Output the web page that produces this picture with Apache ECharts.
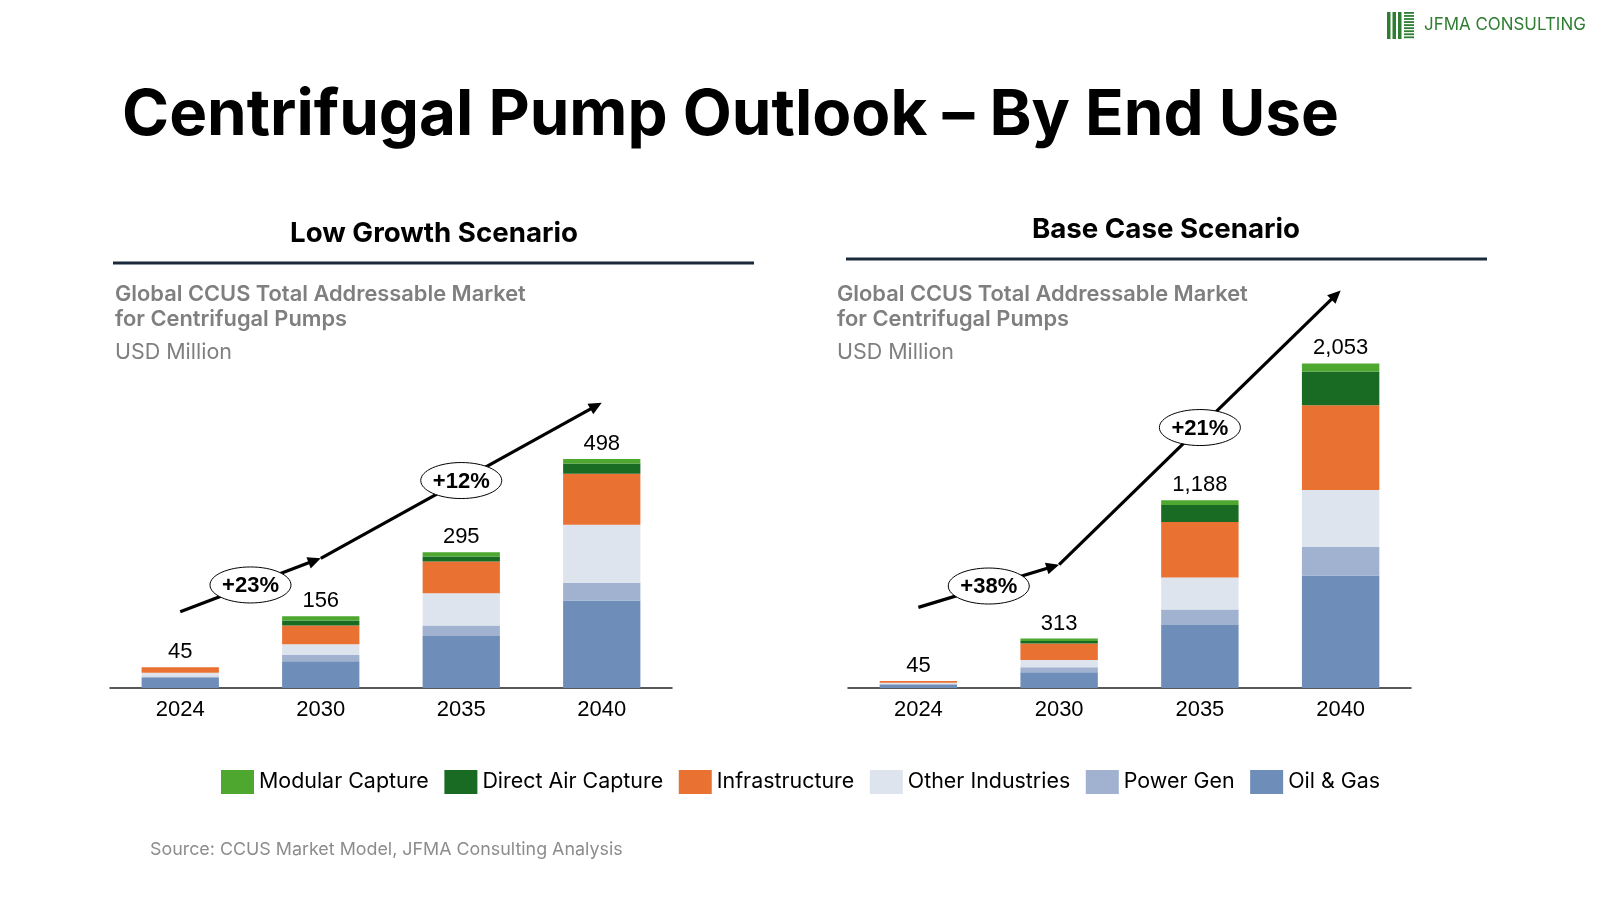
<!DOCTYPE html>
<html><head><meta charset="utf-8">
<script src="https://cdn.jsdelivr.net/npm/echarts@6/dist/echarts.min.js"></script>
<style>html,body{margin:0;padding:0;background:#fff}#c{width:1600px;height:900px}</style>
</head><body><div id="c"></div>
<script>
// ---------- DATA ----------
const years = ['2024', '2030', '2035', '2040'];
const stackOrder = ['Oil & Gas', 'Power Gen', 'Other Industries', 'Infrastructure', 'Direct Air Capture', 'Modular Capture'];
const legendOrder = ['Modular Capture', 'Direct Air Capture', 'Infrastructure', 'Other Industries', 'Power Gen', 'Oil & Gas'];

// Low Growth Scenario (USD Million)
const lowOilGas   = [22, 58, 113, 190];
const lowPowerGen = [3, 14, 23, 39];
const lowOtherInd = [8, 23, 70, 126];
const lowInfra    = [12, 41, 69, 111];
const lowDAC      = [0, 11, 11, 22];
const lowModular  = [0, 9, 9, 10];
const lowTotals   = [45, 156, 295, 498];
const lowGrowth   = ['+23%', '+12%'];
const lowTrend    = [[0, 166], [1, 282], [3, 620]];

// Base Case Scenario (USD Million)
const baseOilGas   = [22, 100, 399, 711];
const basePowerGen = [3, 32, 97, 181];
const baseOtherInd = [8, 45, 203, 361];
const baseInfra    = [12, 104, 351, 536];
const baseDAC      = [0, 17, 108, 213];
const baseModular  = [0, 15, 30, 51];
const baseTotals   = [45, 313, 1188, 2053];
const baseGrowth   = ['+38%', '+21%'];
const baseTrend    = [[0, 510], [1, 780], [3, 2515]];

// ---------- STYLE ----------
const colors = {
  'Modular Capture': '#4EA72E',
  'Direct Air Capture': '#196B24',
  'Infrastructure': '#E97132',
  'Other Industries': '#DEE4EE',
  'Power Gen': '#A0B2CF',
  'Oil & Gas': '#6E8DB9'
};
const numFont = "'Liberation Sans', Arial, sans-serif";
const txtFont = "Inter, 'Noto Sans', sans-serif";

const mctx = document.createElement('canvas').getContext('2d');
function measure(text, weight, size, family) {
  mctx.font = weight + ' ' + size + 'px ' + family;
  return mctx.measureText(text).width;
}
function fit(text, weight, family, target) {
  return 100 * target / measure(text, weight, 100, family);
}

const titleSize = fit('Centrifugal Pump Outlook – By End Use', 'bold', txtFont, 1217);
const headSize = fit('Low Growth Scenario', 'bold', txtFont, 288);
const subSize = fit('Global CCUS Total Addressable Market', '600', txtFont, 411);
const unitSize = fit('USD Million', 'normal', txtFont, 117);
const srcSize = fit('Source: CCUS Market Model, JFMA Consulting Analysis', 'normal', txtFont, 473);
const legSize = fit('Modular Capture', 'normal', txtFont, 170);
const logoSize = fit('JFMA CONSULTING', 'normal', txtFont, 162);

// legend gap so the legend spans the reference width
const legItemW = 33;
let legSum = 0;
legendOrder.forEach(n => { legSum += legItemW + 5 + measure(n, 'normal', legSize, txtFont); });
const legGap = Math.max(4, (1159 - legSum) / (legendOrder.length - 1));

const lowData = [lowOilGas, lowPowerGen, lowOtherInd, lowInfra, lowDAC, lowModular];
const baseData = [baseOilGas, basePowerGen, baseOtherInd, baseInfra, baseDAC, baseModular];

function makeSeries(dataSets, totals, idx) {
  return stackOrder.map((name, i) => ({
    name: name,
    type: 'bar',
    stack: 's' + idx,
    xAxisIndex: idx,
    yAxisIndex: idx,
    barWidth: '55%',
    itemStyle: { color: colors[name] },
    emphasis: { disabled: true },
    data: dataSets[i],
    label: i === stackOrder.length - 1 ? {
      show: true, position: 'top', distance: 4,
      fontFamily: numFont, fontSize: 22, color: '#000',
      formatter: p => totals[p.dataIndex].toLocaleString('en-US')
    } : { show: false }
  }));
}

const chart = echarts.init(document.getElementById('c'), null, { renderer: 'canvas' });

const axisCommon = {
  type: 'category', data: years,
  axisLine: { lineStyle: { color: '#222', width: 1.5 } },
  axisTick: { show: false },
  axisLabel: { fontFamily: numFont, fontSize: 22, color: '#000', margin: 11 }
};

const green = '#2E7D32';
const staticGraphics = [
  { type: 'text', x: 122, y: 116, style: { text: 'Centrifugal Pump Outlook – By End Use', verticalAlign: 'middle', fontFamily: txtFont, fontWeight: 'bold', fontSize: titleSize, fill: '#000' } },
  // logo
  { type: 'rect', shape: { x: 1387, y: 12, width: 3.5, height: 27 }, style: { fill: green } },
  { type: 'rect', shape: { x: 1392.5, y: 12, width: 3.5, height: 27 }, style: { fill: green } },
  { type: 'rect', shape: { x: 1398, y: 12, width: 3.5, height: 27 }, style: { fill: green } },
  ...Array.from({ length: 9 }, (_, k) => ({ type: 'rect', shape: { x: 1404, y: 12 + k * 3.05, width: 10, height: 1.8 }, style: { fill: green } })),
  { type: 'text', x: 1424, y: 25, style: { text: 'JFMA CONSULTING', verticalAlign: 'middle', fontFamily: txtFont, fontSize: logoSize, fill: green } },
  // section headers
  { type: 'text', x: 434, y: 234, style: { text: 'Low Growth Scenario', align: 'center', verticalAlign: 'middle', fontFamily: txtFont, fontWeight: 'bold', fontSize: headSize, fill: '#000' } },
  { type: 'text', x: 1166, y: 230, style: { text: 'Base Case Scenario', align: 'center', verticalAlign: 'middle', fontFamily: txtFont, fontWeight: 'bold', fontSize: headSize, fill: '#000' } },
  { type: 'line', shape: { x1: 113, y1: 263, x2: 754, y2: 263 }, style: { stroke: '#1B2A3A', lineWidth: 3 } },
  { type: 'line', shape: { x1: 846, y1: 259, x2: 1487, y2: 259 }, style: { stroke: '#1B2A3A', lineWidth: 3 } },
];
[115, 837].forEach(x => {
  staticGraphics.push(
    { type: 'text', x: x, y: 294, style: { text: 'Global CCUS Total Addressable Market', verticalAlign: 'middle', fontFamily: txtFont, fontWeight: 600, fontSize: subSize, fill: '#7F7F7F' } },
    { type: 'text', x: x, y: 319, style: { text: 'for Centrifugal Pumps', verticalAlign: 'middle', fontFamily: txtFont, fontWeight: 600, fontSize: subSize, fill: '#7F7F7F' } },
    { type: 'text', x: x, y: 353, style: { text: 'USD Million', verticalAlign: 'middle', fontFamily: txtFont, fontSize: unitSize, fill: '#7F7F7F' } }
  );
});
staticGraphics.push(
  { type: 'text', x: 150, y: 850, style: { text: 'Source: CCUS Market Model, JFMA Consulting Analysis', verticalAlign: 'middle', fontFamily: txtFont, fontSize: srcSize, fill: '#8C8C8C' } }
);

const option = {
  animation: false,
  backgroundColor: '#fff',
  grid: [
    { left: 110, width: 562, top: 366, height: 322 },
    { left: 848, width: 563, top: 356, height: 332 }
  ],
  xAxis: [Object.assign({ gridIndex: 0 }, axisCommon), Object.assign({ gridIndex: 1 }, axisCommon)],
  yAxis: [
    { gridIndex: 0, type: 'value', min: 0, max: 700, show: false },
    { gridIndex: 1, type: 'value', min: 0, max: 2100, show: false }
  ],
  legend: {
    data: legendOrder, left: 216, top: 765,
    itemWidth: legItemW, itemHeight: 24, itemGap: legGap,
    icon: 'rect',
    textStyle: { fontFamily: txtFont, fontSize: legSize, color: '#000' },
    selectedMode: false
  },
  series: makeSeries(lowData, lowTotals, 0).concat(makeSeries(baseData, baseTotals, 1)),
  graphic: staticGraphics
};
chart.setOption(option);

function trendGraphics(points, labels, gi) {
  const px = points.map(p => chart.convertToPixel({ xAxisIndex: gi, yAxisIndex: gi }, p));
  const out = [];
  function arrowHead(a, b) {
    const dx = b[0] - a[0], dy = b[1] - a[1];
    const len = Math.hypot(dx, dy), ux = dx / len, uy = dy / len;
    const L = 13, W = 6;
    const bx = b[0] - ux * L, by = b[1] - uy * L;
    return { type: 'polygon', z: 10, shape: { points: [[b[0], b[1]], [bx - uy * W, by + ux * W], [bx + uy * W, by - ux * W]] }, style: { fill: '#000' } };
  }
  for (let i = 0; i < px.length - 1; i++) {
    const a = px[i], b = px[i + 1];
    const dx = b[0] - a[0], dy = b[1] - a[1], len = Math.hypot(dx, dy);
    out.push({ type: 'line', z: 10, shape: { x1: a[0], y1: a[1], x2: b[0] - dx / len * 8, y2: b[1] - dy / len * 8 }, style: { stroke: '#000', lineWidth: 3.2 } });
    out.push(arrowHead(a, b));
    const mx = (a[0] + b[0]) / 2, my = (a[1] + b[1]) / 2;
    out.push({ type: 'ellipse', z: 11, shape: { cx: mx, cy: my, rx: 40.5, ry: 18 }, style: { fill: '#fff', stroke: '#000', lineWidth: 1 } });
    out.push({ type: 'text', z: 12, x: mx, y: my + 1, style: { text: labels[i], align: 'center', verticalAlign: 'middle', fontFamily: numFont, fontWeight: 'bold', fontSize: 22, fill: '#000' } });
  }
  return out;
}

chart.setOption({
  graphic: staticGraphics.concat(trendGraphics(lowTrend, lowGrowth, 0), trendGraphics(baseTrend, baseGrowth, 1))
});
</script>
</body></html>
